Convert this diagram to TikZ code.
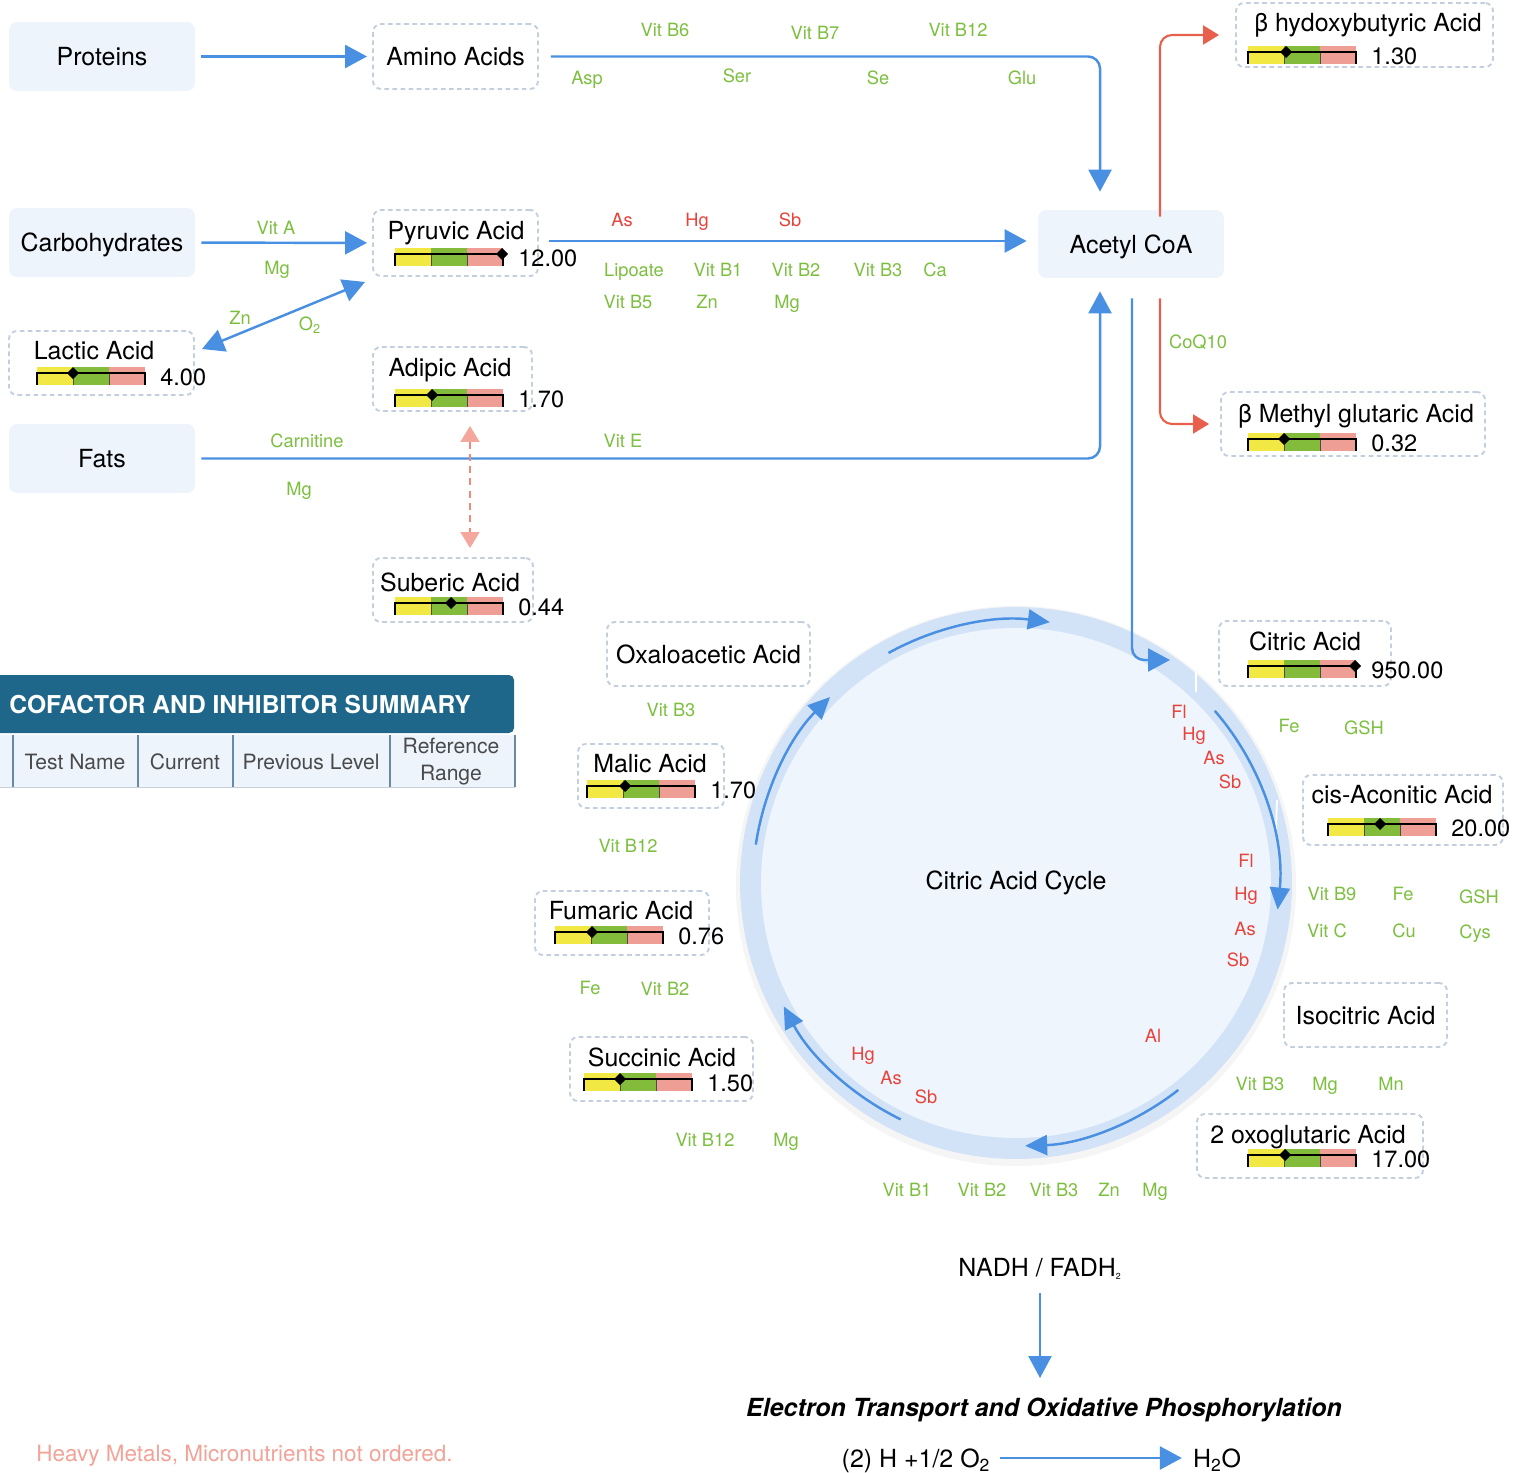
\documentclass[tikz,border=0pt]{standalone}
\usepackage{fontspec}
\setmainfont{TeX Gyre Heros}
\usetikzlibrary{arrows.meta, fit, calc}
\definecolor{flowblue}{HTML}{4A90E2}
\definecolor{boxfill}{HTML}{EEF4FC}
\definecolor{dashgray}{HTML}{C3CFDD}
\definecolor{cofgreen}{HTML}{7CBF3F}
\definecolor{inhred}{HTML}{E8433A}
\definecolor{redflow}{HTML}{E8604C}
\definecolor{salmon}{HTML}{EC8A7E}
\definecolor{salmontip}{HTML}{F4A79D}
\definecolor{baryel}{HTML}{F2E843}
\definecolor{bargrn}{HTML}{83BC3A}
\definecolor{barred}{HTML}{EE9E95}
\definecolor{hdrblue}{HTML}{1F678A}
\definecolor{ringblue}{HTML}{D3E3F7}
\definecolor{corefill}{HTML}{EEF5FD}
\definecolor{notecol}{HTML}{F2A398}
\definecolor{tabtext}{HTML}{4A4A4A}
\definecolor{tabline}{HTML}{6A89A5}
\newcommand{\fsMain}{\fontsize{14.2}{17}\selectfont}
\newcommand{\fsCof}{\fontsize{10.4}{12}\selectfont}
\newcommand{\fsVal}{\fontsize{13.4}{16}\selectfont}
\newcommand{\fsTab}{\fontsize{12}{15.3}\selectfont}
\newcommand{\lvlbar}[5]{%
  \fill[baryel] (#2,#3) rectangle ++(36,18);
  \fill[bargrn] (#2+36,#3) rectangle ++(36,18);
  \fill[barred] (#2+72,#3) rectangle ++(36,18);
  \draw[line width=0.5pt, black!70] (#2+36,#3+6) -- ++(0,12) (#2+72,#3+6) -- ++(0,12);
  \draw[line width=1.1pt] (#2,#3+18) -- (#2,#3+6) -- (#2+108,#3+6) -- (#2+108,#3+18);
  \fill (#2+#4,#3) -- (#2+#4+6,#3+6) -- (#2+#4,#3+12) -- (#2+#4-6,#3+6) -- cycle;
  \node[val] (#1) at (#2+123,#3+10) {#5};}
\tikzset{
  >={Triangle[length=0.44cm,width=0.46cm]},
  src/.style={fill=boxfill, rounded corners=0.16cm, inner sep=0pt, font=\fsMain, text depth=0pt,
    minimum width=3.72cm, minimum height=1.38cm},
  acid/.style={draw=dashgray, line width=1.1pt, dash pattern=on 2.6pt off 2pt, rounded corners=0.16cm, inner sep=0pt, font=\fsMain, text depth=0pt},
  acidname/.style={font=\fsMain, text depth=0pt, inner sep=1pt},
  val/.style={font=\fsVal, text depth=0pt, inner sep=0pt, anchor=west},
  cof/.style={font=\fsCof, text=cofgreen, text depth=0pt, inner sep=1pt},
  inh/.style={font=\fsCof, text=inhred, text depth=0pt, inner sep=1pt},
  tab/.style={font=\fsTab, text=tabtext, align=center, inner sep=0pt},
  flow/.style={flowblue, line width=1.4pt, ->},
  ketone/.style={redflow, line width=1.2pt, -{Triangle[length=0.32cm,width=0.38cm]}, rounded corners=0.24cm},
  cycarrow/.style={flowblue, line width=1.4pt, -{Triangle[length=0.44cm,width=0.4cm]}}
}
\begin{document}
\begin{tikzpicture}[x=0.02cm, y=-0.02cm]
    \useasboundingbox (0,0) rectangle (1528,1473);
    \node[src] (prot) at (102,56.5) {Proteins};
    \node[src] (carb) at (102,242.5) {Carbohydrates};
    \node[src] (fats) at (102,458.5) {Fats};
    \node[src, minimum height=1.36cm] (acetyl) at (1131,244) {Acetyl CoA};
    \node[acid, minimum width=3.3cm, minimum height=1.3cm] (amino) at (455.5,56.5) {Amino Acids};
    \node[acid, minimum width=4.06cm, minimum height=1.28cm] (oxa) at (708.5,654) {Oxaloacetic Acid};
    \node[acid, minimum width=3.26cm, minimum height=1.28cm] (iso) at (1365.5,1015) {Isocitric Acid};
    \foreach \nm/\a/\b/\c/\d in {pyr/373/210/538/276, lac/9/331/194/395, adi/373/347/532/411,
        sub/373/558/533/622, bhb/1236/3/1493/67, bmg/1221/392/1485/456, mal/578/744/724/808,
        fum/535/891/709/955, suc/570/1037/753/1101, cit/1219/621/1391/686, cis/1303/775/1503/845,
        oxo/1197/1114/1423/1178}
    \node[acid, fit={(\a,\b)(\c,\d)}] (\nm) {};
    \foreach \nm/\t/\x/\y in {pyrT/Pyruvic Acid/456/230, lacT/Lactic Acid/94/350, adiT/Adipic Acid/450/367,
        subT/Suberic Acid/450/582, bhbT/β hydoxybutyric Acid/1368/22, bmgT/β Methyl glutaric Acid/1356/413,
        malT/Malic Acid/650/763, fumT/Fumaric Acid/621/910, sucT/Succinic Acid/662/1057,
        citT/Citric Acid/1305/641, cisT/cis-Aconitic Acid/1402/794, oxoT/2 oxoglutaric Acid/1308/1134}
    \node[acidname] (\nm) at (\x,\y) {\t};
    \lvlbar{pyrV}{395}{248}{107}{12.00}
    \lvlbar{lacV}{37}{367}{36}{4.00}
    \lvlbar{adiV}{395}{389}{37}{1.70}
    \lvlbar{subV}{395}{597}{56}{0.44}
    \lvlbar{bhbV}{1248}{46}{38}{1.30}
    \lvlbar{bmgV}{1248}{433}{36}{0.32}
    \lvlbar{citV}{1248}{660}{107}{950.00}
    \lvlbar{cisV}{1328}{818}{52}{20.00}
    \lvlbar{oxoV}{1248}{1149}{37}{17.00}
    \lvlbar{malV}{587}{780}{38}{1.70}
    \lvlbar{fumV}{555}{926}{37}{0.76}
    \lvlbar{sucV}{584}{1073}{36}{1.50}
    \draw[flow, shorten <=0.12cm, shorten >=0.1cm] (prot) -- (amino);
    \draw[flow, shorten <=0.12cm, shorten >=0.1cm] (carb) -- (pyr);
    \draw[flow, rounded corners=0.24cm, shorten <=0.24cm, shorten >=0.36cm] (amino.east) -| ([xshift=-0.62cm]acetyl.north);
    \draw[flow, shorten <=0.2cm, shorten >=0.22cm] ([yshift=0.04cm]pyr.east) -- ([yshift=0.04cm]pyr.east -| acetyl.west);
    \draw[flow, rounded corners=0.24cm, shorten <=0.12cm, shorten >=0.26cm] (fats.east) -| ([xshift=-0.62cm]acetyl.south);
    \draw[flow, <->] ([shift={(-7,5)}]pyr.south west) -- ([shift={(7,19)}]lac.north east);
    \draw[salmon, line width=1.1pt, dash pattern=on 4pt off 3pt,
        {Triangle[length=0.32cm,width=0.38cm,color=salmontip]}-{Triangle[length=0.32cm,width=0.38cm,color=salmontip]},
        shorten <=0.28cm, shorten >=0.18cm] ([xshift=0.35cm]adi.south) -- ([xshift=0.35cm]adi.south |- sub.north);
    \draw[ketone, shorten <=-0.14cm, shorten >=0.32cm] ([xshift=0.58cm]acetyl.north) |- (bhb.west);
    \draw[ketone, shorten <=0.4cm, shorten >=0.22cm] ([xshift=0.58cm]acetyl.south) |- (bmg.west);
    \fill[black, opacity=0.04] (1016,886) circle[radius=280];
    \node[circle, fill=ringblue, minimum size=11.04cm, inner sep=0pt] (cyc) at (1016,883) {};
    \node[circle, fill=corefill, minimum size=10.2cm, inner sep=0pt, font=\fsMain] (core) at (1016,883) {Citric Acid Cycle};
    \draw[white, line width=1pt] (1196,672) -- (1196,692) (1277,800) -- (1276,830);
    \coordinate (cycIn) at (1170,660);
    \draw[flow, rounded corners=0.24cm, shorten <=0.4cm] ([xshift=0.02cm]acetyl.south) |- (cycIn);
    \draw[cycarrow] ($(cyc)+(-119:263)$) arc[start angle=-119, end angle=-82.6, radius=263];
    \draw[cycarrow] ($(cyc)+(-40.9:263)$) arc[start angle=-40.9, end angle=5.8, radius=263];
    \draw[cycarrow] ($(cyc)+(51.9:263)$) arc[start angle=51.9, end angle=88, radius=263];
    \draw[cycarrow] ($(cyc)+(116:263)$) arc[start angle=116, end angle=152, radius=263];
    \draw[cycarrow] ($(cyc)+(-171.6:263)$) arc[start angle=-171.6, end angle=-135, radius=263];
    \foreach \t/\x/\y [count=\i] in {Vit B6/665/30, Vit B7/815/33, Vit B12/958/30, Asp/587/78, Ser/737/76,
        Se/878/78, Glu/1022/78, Vit A/276/228, Mg/277/268, Zn/240/318, {O\textsubscript{2}}/310/324,
        Lipoate/634/270, Vit B1/718/270, Vit B2/796/270, Vit B3/878/270, Ca/935/270, Vit B5/628/302,
        Zn/707/302, Mg/787/302, Carnitine/307/441, Vit E/623/441, Mg/299/489, CoQ10/1198/342,
        Vit B3/671/710, Vit B12/628/846, Fe/590/988, Vit B2/665/989, Vit B12/705/1140, Mg/786/1140,
        Vit B1/907/1190, Vit B2/982/1190, Vit B3/1054/1190, Zn/1109/1190, Mg/1155/1190,
        Vit B3/1260/1084, Mg/1325/1084, Mn/1391/1084, Vit B9/1332/894, Fe/1403/894, GSH/1479/897,
        Vit C/1327/931, Cu/1404/931, Cys/1475/932, Fe/1289/726, GSH/1364/728}
    \node[cof] (cf\i) at (\x,\y) {\t};
    \foreach \t/\x/\y [count=\i] in {As/622/220, Hg/697/220, Sb/790/220, Fl/1179/712, Hg/1194/734,
        As/1214/758, Sb/1230/782, Fl/1246/861, Hg/1246/894, As/1245/929, Sb/1238/960, Al/1153/1036,
        Hg/863/1054, As/891/1078, Sb/926/1097}
    \node[inh] (ih\i) at (\x,\y) {\t};
    \node[acidname] (nadh) at (1040,1267) {NADH / FADH\textsubscript{\fontsize{5}{5}\selectfont 2}};
    \node[acidname, font=\fsMain\bfseries\itshape] (etc) at (1044,1407) {Electron Transport and Oxidative Phosphorylation};
    \node[acidname] (react) at (916,1458) {(2) H +1/2 O\textsubscript{2}};
    \node[acidname] (water) at (1217,1458) {H\textsubscript{2}O};
    \draw[flow, shorten <=0.3cm, shorten >=0.58cm] (nadh) -- (nadh |- etc);
    \draw[flow, shorten <=0.16cm, shorten >=0.18cm] (react) -- (water);
    \fill[hdrblue, rounded corners=0.1cm] (-10,675) rectangle (514,733);
    \node[anchor=west, text=white, font=\fontsize{14}{16}\selectfont\bfseries, inner sep=0pt, text depth=0pt] (hdr) at (9,704) {COFACTOR AND INHIBITOR SUMMARY};
    \fill[boxfill] (0,735) rectangle (515,787);
    \draw[dashgray] (0,787) -- (515,787);
    \foreach \x in {13,138,233,390,515}
    \draw[tabline, line width=1pt] (\x,735) -- (\x,787);
    \foreach \t/\x [count=\i] in {Test Name/75, Current/185, Previous Level/311, {Reference\\Range}/451}
    \node[tab] (col\i) at (\x,762) {\t};
    \node[anchor=west, text=notecol, font=\fontsize{12.8}{15}\selectfont, inner sep=0pt] (note) at (36,1456) {Heavy Metals, Micronutrients not ordered.};
\end{tikzpicture}
\end{document}
